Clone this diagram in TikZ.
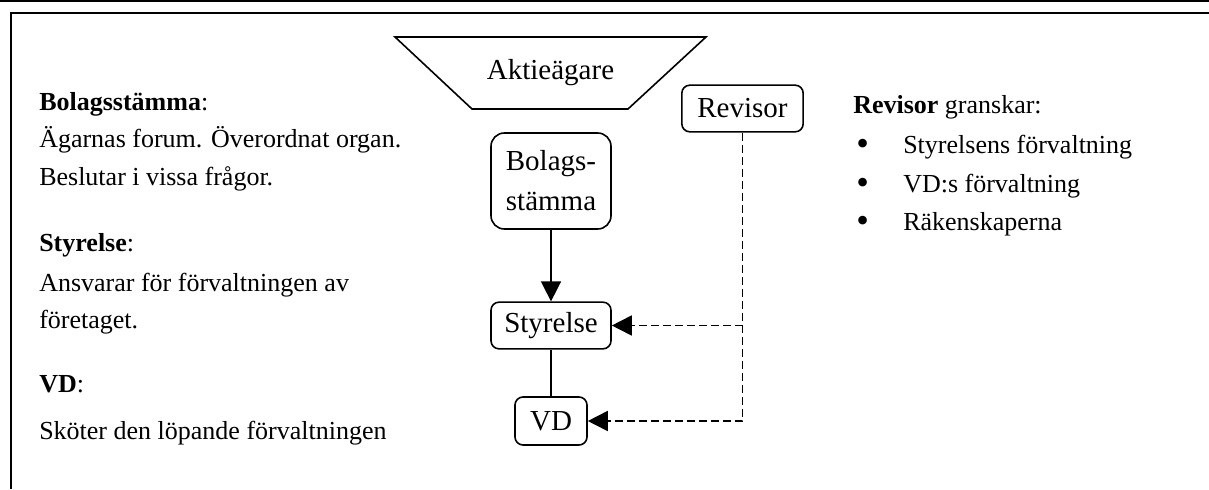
\documentclass[tikz,border=0pt]{standalone}
\usepackage{fontspec}
\setmainfont{Liberation Serif}
\usetikzlibrary{arrows.meta}
\tikzset{
  px/.style={x=0.75pt,y=-0.75pt},
  frameline/.style={line width=1.5pt},
  body/.style={anchor=base west,inner sep=0pt,font=\fontsize{19.5pt}{24pt}\selectfont},
  bul/.style={anchor=base west,inner sep=0pt,font=\fontsize{27pt}{30pt}\selectfont},
  box/.style={draw,line width=1.2pt,align=center,inner sep=0pt,font=\fontsize{21.75pt}{30pt}\selectfont},
  conn/.style={line width=1.2pt},
  tip/.style={-{Triangle[length=15pt,width=15pt]}},
  dline/.style={line width=1.3pt,dash pattern=on 6pt off 3pt},
}
\begin{document}
\begin{tikzpicture}[px]
\useasboundingbox (0,0) rectangle (1209,489);
% frame
\draw[frameline] (0,1) -- (1209,1);
\draw[frameline] (1209,13) -- (10.5,13) -- (10.5,489);
% shareholders trapezoid
\draw[line width=1.2pt] (395,37) -- (706,37) -- (628,109) -- (472,109) -- cycle;
\node[inner sep=0pt,font=\fontsize{21.75pt}{30pt}\selectfont] (aktie) at (550.5,73) {Aktieägare};
% boxes
\node[box,rounded corners=10pt,minimum width=90pt,minimum height=72pt] (bol) at (551,181) {Bolags-\\stämma};
\node[box,rounded corners=6pt,minimum width=90pt,minimum height=35pt] (sty) at (551,325.5) {Styrelse};
\node[box,rounded corners=6pt,minimum width=54pt,minimum height=36pt] (vd) at (551,421) {VD};
\node[box,rounded corners=6pt,minimum width=91pt,minimum height=35pt] (rev) at (742.5,108.5) {Revisor};
% connectors
\draw[conn,tip] (bol.south) -- (sty.north);
\draw[conn] (sty.south) -- (vd.north);
\draw[dline,tip] (rev.south) |- (vd.east);
\draw[dline,tip] (rev.south |- sty.east) -- (sty.east);
% left text
\node[body] (t1) at (39,110) {\textbf{Bolagsstämma}:};
\node[body] (t2) at (39,147) {Ägarnas forum. Överordnat organ.};
\node[body] (t3) at (39,185) {Beslutar i vissa frågor.};
\node[body] (t4) at (39,251) {\textbf{Styrelse}:};
\node[body] (t5) at (39,291) {Ansvarar för förvaltningen av};
\node[body] (t6) at (39,328) {företaget.};
\node[body] (t7) at (39,392) {\textbf{VD}:};
\node[body] (t8) at (39,439) {Sköter den löpande förvaltningen};
% right text
\node[body] (r0) at (853,113) {\textbf{Revisor} granskar:};
\node[bul] (b1) at (856,155) {\textbullet};
\node[body] (r1) at (903,153) {Styrelsens förvaltning};
\node[bul] (b2) at (856,194) {\textbullet};
\node[body] (r2) at (903,192) {VD:s förvaltning};
\node[bul] (b3) at (856,232) {\textbullet};
\node[body] (r3) at (903,230) {Räkenskaperna};
\end{tikzpicture}
\end{document}
